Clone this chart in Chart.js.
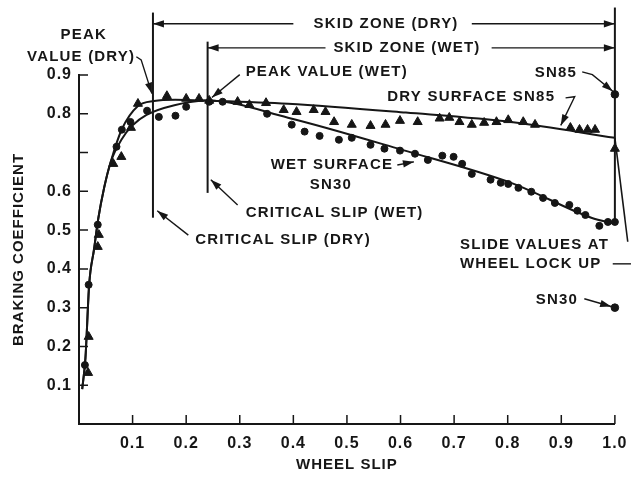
<!DOCTYPE html>
<html>
<head>
<meta charset="utf-8">
<script src="https://cdn.jsdelivr.net/npm/chart.js@4"></script>
<style>
  html, body { margin: 0; padding: 0; background: #fff; }
  #wrap { width: 636px; height: 477px; }
</style>
</head>
<body>
<div id="wrap"><canvas id="chart"></canvas></div>
<script>
// dry surface SN85 (triangles)
const dryX = [0.017, 0.018, 0.035, 0.037, 0.064, 0.079, 0.097, 0.110, 0.164, 0.200, 0.224, 0.243, 0.296, 0.318,
  0.349, 0.382, 0.406, 0.438, 0.460, 0.476, 0.509, 0.544, 0.572, 0.599, 0.632, 0.673, 0.691, 0.710, 0.733,
  0.756, 0.779, 0.801, 0.829, 0.851, 0.917, 0.934, 0.949, 0.963, 1.0];
const dryY = [0.132, 0.225, 0.457, 0.488, 0.671, 0.689, 0.764, 0.826, 0.846, 0.839, 0.839, 0.834, 0.831, 0.823,
  0.828, 0.810, 0.805, 0.810, 0.805, 0.779, 0.772, 0.769, 0.772, 0.782, 0.779, 0.788, 0.790, 0.779, 0.772,
  0.777, 0.779, 0.784, 0.779, 0.772, 0.764, 0.759, 0.759, 0.759, 0.710];

// wet surface SN30 (circles)
const wetX = [0.011, 0.018, 0.035, 0.070, 0.080, 0.096, 0.127, 0.149, 0.180, 0.200, 0.243, 0.268, 0.351, 0.397,
  0.421, 0.449, 0.485, 0.509, 0.544, 0.570, 0.599, 0.627, 0.651, 0.678, 0.699, 0.715, 0.733, 0.768, 0.787,
  0.801, 0.820, 0.844, 0.866, 0.888, 0.915, 0.930, 0.945, 0.971, 0.987, 1.0];
const wetY = [0.152, 0.359, 0.514, 0.715, 0.759, 0.779, 0.808, 0.792, 0.795, 0.818, 0.831, 0.831, 0.800, 0.772,
  0.754, 0.743, 0.733, 0.738, 0.720, 0.710, 0.705, 0.697, 0.681, 0.692, 0.689, 0.671, 0.645, 0.630, 0.622,
  0.619, 0.609, 0.599, 0.583, 0.570, 0.565, 0.550, 0.539, 0.511, 0.521, 0.521];

// fitted curves
const dryFitX = [0.006, 0.012, 0.019, 0.028, 0.036, 0.047, 0.059, 0.080, 0.110, 0.140, 0.180, 0.240, 0.390, 0.610, 0.810, 1.0];
const dryFitY = [0.090, 0.170, 0.360, 0.450, 0.530, 0.610, 0.675, 0.760, 0.820, 0.833, 0.836, 0.834, 0.826, 0.803, 0.778, 0.738];
const wetFitX = [0.006, 0.012, 0.019, 0.028, 0.036, 0.047, 0.059, 0.080, 0.100, 0.126, 0.178, 0.240, 0.390, 0.603, 0.810, 0.956, 1.0];
const wetFitY = [0.090, 0.170, 0.360, 0.450, 0.530, 0.610, 0.675, 0.735, 0.770, 0.797, 0.822, 0.834, 0.790, 0.707, 0.620, 0.532, 0.516];

// slide values at wheel lock up (SN85, SN30)
const slideX = [1.0, 1.0];
const slideY = [0.85, 0.30];
const lockX = [1.0, 1.024];
const lockY = [0.738, 0.470];

const xTickVals = [0.1, 0.2, 0.3, 0.4, 0.5, 0.6, 0.7, 0.8, 0.9, 1.0];
const yTickVals = [0.1, 0.2, 0.3, 0.4, 0.5, 0.6, 0.7, 0.8, 0.9];
const yLabelled = [0.1, 0.2, 0.3, 0.4, 0.5, 0.6, 0.8, 0.9];

// annotations (data units)
const vLines = [
  { x: 0.138, y0: 1.061, y1: 0.532 },
  { x: 0.240, y0: 0.986, y1: 0.596 },
  { x: 1.0, y0: 1.074, y1: 0.520 },
];
const arrows = [
  { p: [[0.40, 1.032], [0.138, 1.032]] },
  { p: [[0.733, 1.032], [1.0, 1.032]] },
  { p: [[0.46, 0.970], [0.24, 0.970]] },
  { p: [[0.77, 0.970], [1.0, 0.970]] },
  { p: [[0.107, 0.947], [0.116, 0.939], [0.136, 0.852]] },
  { p: [[0.300, 0.901], [0.248, 0.842]] },
  { p: [[0.939, 0.908], [0.958, 0.901], [0.996, 0.858]] },
  { p: [[0.908, 0.841], [0.925, 0.844], [0.899, 0.770]] },
  { p: [[0.594, 0.668], [0.625, 0.676]] },
  { p: [[0.296, 0.565], [0.246, 0.630]] },
  { p: [[0.204, 0.487], [0.146, 0.550]] },
  { p: [[0.943, 0.323], [0.993, 0.303]] },
  { p: [[0.996, 0.413], [1.03, 0.413]], head: false },
];
const notes = [
  { t: "PEAK", x: 0.009, y: 1.004, a: "center" },
  { t: "VALUE (DRY)", x: 0.004, y: 0.947, a: "center" },
  { t: "SKID ZONE (DRY)", x: 0.573, y: 1.032, a: "center" },
  { t: "SKID ZONE (WET)", x: 0.612, y: 0.970, a: "center" },
  { t: "PEAK VALUE (WET)", x: 0.311, y: 0.908, a: "left" },
  { t: "SN85", x: 0.890, y: 0.906, a: "center" },
  { t: "DRY SURFACE SN85", x: 0.732, y: 0.844, a: "center" },
  { t: "WET SURFACE", x: 0.472, y: 0.668, a: "center" },
  { t: "SN30", x: 0.470, y: 0.617, a: "center" },
  { t: "CRITICAL SLIP (WET)", x: 0.311, y: 0.545, a: "left" },
  { t: "CRITICAL SLIP (DRY)", x: 0.217, y: 0.475, a: "left" },
  { t: "SLIDE VALUES AT", x: 0.711, y: 0.462, a: "left" },
  { t: "WHEEL LOCK UP", x: 0.711, y: 0.413, a: "left" },
  { t: "SN30", x: 0.892, y: 0.320, a: "center" },
];

const INK = "#161616";
const FONT = "'Liberation Sans', Arial, sans-serif";

function pts(xs, ys) {
  return xs.map((x, i) => ({ x: x, y: ys[i] }));
}

const decor = {
  id: "decor",
  beforeDraw(chart) {
    chart.ctx.letterSpacing = "1px";
  },
  afterDraw(chart) {
    const ctx = chart.ctx;
    const sx = chart.scales.x, sy = chart.scales.y;
    const px = v => sx.getPixelForValue(v);
    const py = v => sy.getPixelForValue(v);
    ctx.save();
    ctx.strokeStyle = INK;
    ctx.fillStyle = INK;

    // inward tick marks
    ctx.lineWidth = 1.5;
    ctx.beginPath();
    yTickVals.forEach(v => { ctx.moveTo(sx.left, py(v)); ctx.lineTo(sx.left + 9, py(v)); });
    xTickVals.forEach(v => { ctx.moveTo(px(v), sy.bottom); ctx.lineTo(px(v), sy.bottom - 9); });
    ctx.stroke();

    // vertical zone lines
    ctx.lineWidth = 2;
    vLines.forEach(l => {
      ctx.beginPath();
      ctx.moveTo(px(l.x), py(l.y0));
      ctx.lineTo(px(l.x), py(l.y1));
      ctx.stroke();
    });

    // arrows
    ctx.lineWidth = 1.4;
    arrows.forEach(a => {
      const p = a.p.map(q => [px(q[0]), py(q[1])]);
      ctx.beginPath();
      ctx.moveTo(p[0][0], p[0][1]);
      for (let i = 1; i < p.length; i++) ctx.lineTo(p[i][0], p[i][1]);
      ctx.stroke();
      if (a.head === false) return;
      const [x1, y1] = p[p.length - 2], [x2, y2] = p[p.length - 1];
      const ang = Math.atan2(y2 - y1, x2 - x1);
      const len = 11, w = 3.6;
      ctx.beginPath();
      ctx.moveTo(x2, y2);
      ctx.lineTo(x2 - len * Math.cos(ang) + w * Math.sin(ang), y2 - len * Math.sin(ang) - w * Math.cos(ang));
      ctx.lineTo(x2 - len * Math.cos(ang) - w * Math.sin(ang), y2 - len * Math.sin(ang) + w * Math.cos(ang));
      ctx.closePath();
      ctx.fill();
    });

    // labels
    ctx.font = "bold 15px " + FONT;
    ctx.letterSpacing = "1.2px";
    ctx.textBaseline = "middle";
    notes.forEach(n => {
      ctx.textAlign = n.a;
      ctx.fillText(n.t, px(n.x), py(n.y));
    });
    ctx.restore();
  }
};

new Chart(document.getElementById("chart"), {
  type: "scatter",
  data: {
    datasets: [
      { data: pts(dryFitX, dryFitY), showLine: true, pointRadius: 0, borderColor: INK, borderWidth: 2,
        cubicInterpolationMode: "monotone", clip: false },
      { data: pts(wetFitX, wetFitY), showLine: true, pointRadius: 0, borderColor: INK, borderWidth: 2,
        cubicInterpolationMode: "monotone", clip: false },
      { data: pts(lockX, lockY), showLine: true, pointRadius: 0, borderColor: INK, borderWidth: 1.6, clip: false },
      { data: pts(dryX, dryY), pointStyle: "triangle", pointRadius: 5.2, backgroundColor: INK, borderColor: INK,
        borderWidth: 1, clip: false },
      { data: pts(wetX, wetY), pointStyle: "circle", pointRadius: 3.5, backgroundColor: INK, borderColor: INK,
        borderWidth: 1, clip: false },
      { data: pts(slideX, slideY), pointStyle: "circle", pointRadius: 3.8, backgroundColor: INK, borderColor: INK,
        borderWidth: 1, clip: false },
    ]
  },
  options: {
    responsive: true,
    maintainAspectRatio: false,
    animation: false,
    events: [],
    layout: { padding: { left: 0, top: 75, right: 13, bottom: 0 } },
    plugins: { legend: { display: false }, tooltip: { enabled: false } },
    scales: {
      x: {
        type: "linear", min: 0, max: 1.0,
        afterFit: s => { s.height = 53; },
        grid: { display: false, drawTicks: false },
        border: { display: true, color: INK, width: 2 },
        ticks: {
          stepSize: 0.1, padding: 10, color: INK, maxRotation: 0, autoSkip: false,
          font: { family: FONT, size: 16, weight: "bold" },
          callback: v => v < 0.05 ? "" : v.toFixed(1)
        },
        title: { display: true, text: "WHEEL SLIP", color: INK, padding: { top: 0, bottom: 3 },
          font: { family: FONT, size: 15, weight: "bold" } }
      },
      y: {
        type: "linear", min: 0, max: 0.9,
        afterFit: s => { s.width = 79; },
        grid: { display: false, drawTicks: false },
        border: { display: true, color: INK, width: 2 },
        ticks: {
          stepSize: 0.1, padding: 7, color: INK, autoSkip: false,
          font: { family: FONT, size: 16, weight: "bold" },
          callback: v => yLabelled.some(u => Math.abs(u - v) < 1e-6) ? v.toFixed(1) : ""
        },
        title: { display: true, text: "BRAKING COEFFICIENT", color: INK, padding: { top: 9.5, bottom: 0 },
          font: { family: FONT, size: 15, weight: "bold" } }
      }
    }
  },
  plugins: [decor]
});
</script>
</body>
</html>
